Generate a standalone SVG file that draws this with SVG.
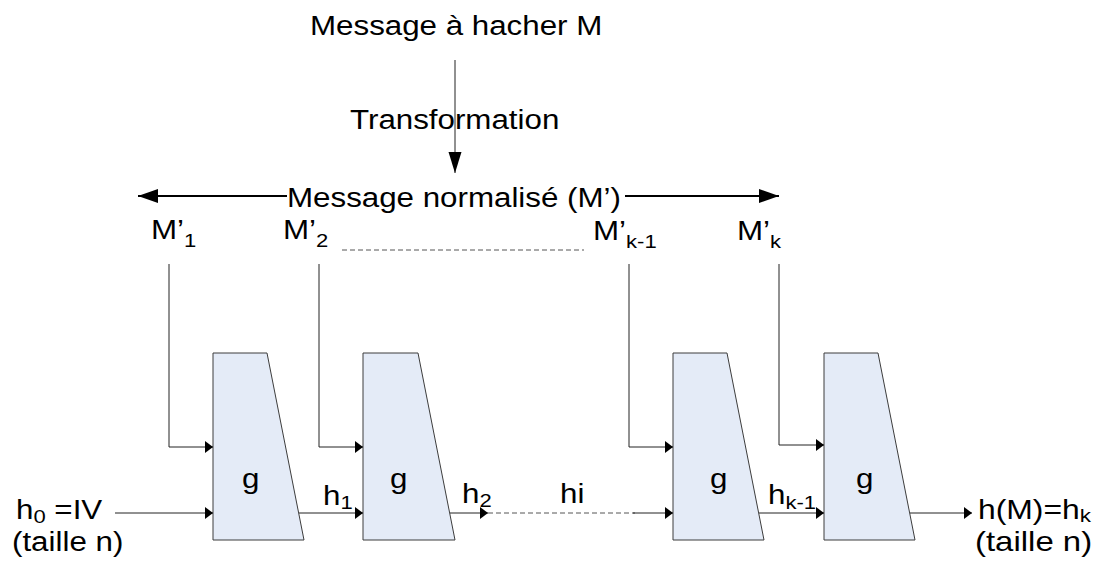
<svg xmlns="http://www.w3.org/2000/svg" width="1105" height="567" viewBox="0 0 1105 567">
  <style>
    text { font-family: "Liberation Sans", Arial, sans-serif; font-size: 27px; fill: #000; }
    .sub { font-size: 19px; }
    .box { fill: #E4EBF7; stroke: #3c3c3c; stroke-width: 1; }
    .wire { fill: none; stroke: #222; stroke-width: 1; }
    .dash { fill: none; stroke: #555; stroke-width: 1; stroke-dasharray: 5 3; }
    .bold { fill: none; stroke: #000; stroke-width: 2; }
  </style>
  <defs>
    <marker id="tip" markerUnits="userSpaceOnUse" markerWidth="9" markerHeight="12" refX="8" refY="6" orient="auto">
      <path d="M0,0 L8,6 L0,12 Z" fill="#000"/>
    </marker>
    <marker id="bigTip" markerUnits="userSpaceOnUse" markerWidth="21" markerHeight="16" refX="20" refY="8" orient="auto">
      <path d="M0,1 L20,8 L0,15 Z" fill="#000"/>
    </marker>
    <marker id="downTip" markerUnits="userSpaceOnUse" markerWidth="22" markerHeight="14" refX="21" refY="7" orient="auto">
      <path d="M0,0.5 L21,7 L0,13.5 Z" fill="#000"/>
    </marker>
  </defs>

  <!-- header labels -->
  <g id="message">
    <text transform="translate(310,35) scale(1.16,1)">Message à hacher M</text>
  </g>
  <g id="transformation">
    <text transform="translate(350,129) scale(1.16,1)">Transformation</text>
  </g>
  <g id="normalized">
    <text transform="translate(287,207) scale(1.16,1)">Message normalisé (M’)</text>
  </g>

  <!-- message blocks -->
  <g id="block-1">
    <text transform="translate(151,239) scale(1.16,1)">M’<tspan class="sub" dy="8">1</tspan></text>
  </g>
  <g id="block-2">
    <text transform="translate(283,239) scale(1.16,1)">M’<tspan class="sub" dy="8">2</tspan></text>
  </g>
  <g id="block-k-1">
    <text transform="translate(593,240) scale(1.16,1)">M’<tspan class="sub" dy="8">k-1</tspan></text>
  </g>
  <g id="block-k">
    <text transform="translate(737,240) scale(1.16,1)">M’<tspan class="sub" dy="8">k</tspan></text>
  </g>

  <!-- compression function stages -->
  <g id="g1">
    <path class="box" d="M213,353 L267,353 L304,540 L213,540 Z"/>
    <text transform="translate(242,488) scale(1.16,1)">g</text>
  </g>
  <g id="g2">
    <path class="box" d="M363,353 L418,353 L455,540 L363,540 Z"/>
    <text transform="translate(390,488) scale(1.16,1)">g</text>
  </g>
  <g id="g3">
    <path class="box" d="M673,353 L727,353 L764,540 L673,540 Z"/>
    <text transform="translate(710,488) scale(1.16,1)">g</text>
  </g>
  <g id="g4">
    <path class="box" d="M824,353 L878,353 L915,540 L824,540 Z"/>
    <text transform="translate(856,488) scale(1.16,1)">g</text>
  </g>

  <!-- chaining values -->
  <g id="h0">
    <text transform="translate(16,519) scale(1.16,1)">h<tspan class="sub" dy="4">0</tspan><tspan dy="-4"> =IV</tspan></text>
    <text transform="translate(12,551) scale(1.16,1)">(taille n)</text>
  </g>
  <g id="h1">
    <text transform="translate(323,505) scale(1.16,1)">h<tspan class="sub" dy="4">1</tspan></text>
  </g>
  <g id="h2">
    <text transform="translate(462,503) scale(1.16,1)">h<tspan class="sub" dy="4">2</tspan></text>
  </g>
  <g id="hi">
    <text transform="translate(560,503) scale(1.16,1)">hi</text>
  </g>
  <g id="hk-1">
    <text transform="translate(768,504) scale(1.16,1)">h<tspan class="sub" dy="5">k-1</tspan></text>
  </g>
  <g id="hk">
    <text transform="translate(978,519) scale(1.18,1)">h(M)=h<tspan class="sub" dy="3">k</tspan></text>
    <text transform="translate(975,551) scale(1.22,1)">(taille n)</text>
  </g>

  <!-- connectors -->
  <g id="connectors">
    <line class="wire" x1="455" y1="60" x2="455" y2="173" marker-end="url(#downTip)"/>
    <line class="bold" x1="287" y1="196" x2="138" y2="196" marker-end="url(#bigTip)"/>
    <line class="bold" x1="625" y1="196" x2="779" y2="196" marker-end="url(#bigTip)"/>
    <line class="dash" x1="342" y1="250" x2="584" y2="250" stroke-dasharray="4 2"/>

    <polyline class="wire" points="169,264 169,447 213,447" marker-end="url(#tip)"/>
    <polyline class="wire" points="319,264 319,447 363,447" marker-end="url(#tip)"/>
    <polyline class="wire" points="629,264 629,447 673,447" marker-end="url(#tip)"/>
    <polyline class="wire" points="779,264 779,445 824,445" marker-end="url(#tip)"/>

    <line class="wire" x1="115" y1="513" x2="213" y2="513" marker-end="url(#tip)"/>
    <line class="wire" x1="299" y1="513" x2="363" y2="513" marker-end="url(#tip)"/>
    <line class="wire" x1="450" y1="513" x2="488" y2="513" marker-end="url(#tip)"/>
    <line class="dash" x1="488" y1="513" x2="635" y2="513"/>
    <line class="wire" x1="633" y1="513" x2="673" y2="513" marker-end="url(#tip)"/>
    <line class="wire" x1="759" y1="513" x2="824" y2="513" marker-end="url(#tip)"/>
    <line class="wire" x1="910" y1="513" x2="972" y2="513" marker-end="url(#tip)"/>
  </g>
</svg>
